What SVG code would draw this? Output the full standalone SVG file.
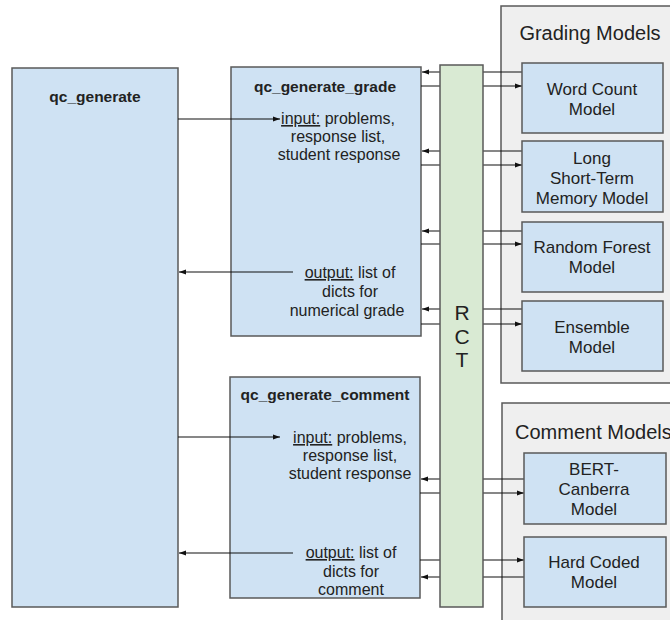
<svg xmlns="http://www.w3.org/2000/svg" width="670" height="620" viewBox="0 0 670 620">
<style>
.box{fill:#cfe2f3;stroke:#595959;stroke-width:1.5}
.grp{fill:#efefef;stroke:#595959;stroke-width:1.5}
.rct{fill:#d9ead3;stroke:#595959;stroke-width:1.5}
text{font-family:"Liberation Sans",Arial,sans-serif;fill:#222;font-size:16px;text-anchor:middle}
.b{font-weight:bold;font-size:15.5px}
.g{font-size:20px}
.r{font-size:21px}
.m{font-size:17px}
.cn line{stroke:#111;stroke-width:1.2}
</style>
<defs>
<marker id="ah" viewBox="0 0 10 10" refX="10" refY="5" markerWidth="7" markerHeight="7" markerUnits="userSpaceOnUse" orient="auto">
<path d="M0,1.5 L10,5 L0,8.5 Z" fill="#111"/>
</marker>
</defs>
<rect width="670" height="620" fill="#fff"/>
<g id="grading-models">
<rect class="grp" x="501" y="6" width="175" height="377"/>
<text class="g" x="590" y="40">Grading Models</text>
</g>
<g id="comment-models">
<rect class="grp" x="502" y="403" width="175" height="230"/>
<text class="g" x="515" y="439" style="text-anchor:start">Comment Models</text>
</g>
<g id="qc_generate">
<rect class="box" x="12" y="68" width="166" height="539"/>
<text class="b" x="95" y="102">qc_generate</text>
</g>
<g id="qc_generate_grade">
<rect class="box" x="231" y="67" width="190" height="269"/>
<text class="b" x="325" y="92">qc_generate_grade</text>
<text x="338" y="124"><tspan text-decoration="underline">input:</tspan> problems,</text>
<text x="338" y="142">response list,</text>
<text x="339" y="160">student response</text>
<text x="350" y="278"><tspan text-decoration="underline">output:</tspan> list of</text>
<text x="350" y="297">dicts for</text>
<text x="347" y="316">numerical grade</text>
</g>
<g id="qc_generate_comment">
<rect class="box" x="230" y="377" width="190" height="221"/>
<text class="b" x="325" y="400">qc_generate_comment</text>
<text x="350" y="443"><tspan text-decoration="underline">input:</tspan> problems,</text>
<text x="350" y="461">response list,</text>
<text x="350" y="479">student response</text>
<text x="351" y="558"><tspan text-decoration="underline">output:</tspan> list of</text>
<text x="351" y="577">dicts for</text>
<text x="351" y="595">comment</text>
</g>
<g id="connectors" class="cn">
<line x1="178" y1="119" x2="280" y2="119" marker-end="url(#ah)"/>
<line x1="293" y1="272" x2="179" y2="272" marker-end="url(#ah)"/>
<line x1="178" y1="437" x2="280" y2="437" marker-end="url(#ah)"/>
<line x1="293" y1="553" x2="179" y2="553" marker-end="url(#ah)"/>
<line x1="522" y1="72" x2="422" y2="72" marker-end="url(#ah)"/>
<line x1="421" y1="86" x2="522" y2="86" marker-end="url(#ah)"/>
<line x1="522" y1="151" x2="422" y2="151" marker-end="url(#ah)"/>
<line x1="421" y1="165" x2="522" y2="165" marker-end="url(#ah)"/>
<line x1="522" y1="231" x2="422" y2="231" marker-end="url(#ah)"/>
<line x1="421" y1="244" x2="522" y2="244" marker-end="url(#ah)"/>
<line x1="522" y1="309" x2="422" y2="309" marker-end="url(#ah)"/>
<line x1="421" y1="324" x2="522" y2="324" marker-end="url(#ah)"/>
<line x1="524" y1="479" x2="421" y2="479" marker-end="url(#ah)"/>
<line x1="420" y1="493" x2="524" y2="493" marker-end="url(#ah)"/>
<line x1="420" y1="560" x2="524" y2="560" marker-end="url(#ah)"/>
<line x1="524" y1="577" x2="421" y2="577" marker-end="url(#ah)"/>
</g>
<g id="rct">
<rect class="rct" x="440" y="65" width="43" height="542"/>
<text class="r" x="462" y="320">R</text>
<text class="r" x="462" y="344">C</text>
<text class="r" x="462" y="367">T</text>
</g>
<g id="word-count-model">
<rect class="box" x="522" y="63" width="141" height="70"/>
<text class="m" x="592" y="95">Word Count</text>
<text class="m" x="592" y="115">Model</text>
</g>
<g id="lstm-model">
<rect class="box" x="522" y="141" width="141" height="71"/>
<text class="m" x="592" y="164">Long</text>
<text class="m" x="592" y="184">Short-Term</text>
<text class="m" x="592" y="204">Memory Model</text>
</g>
<g id="random-forest-model">
<rect class="box" x="522" y="222" width="141" height="70"/>
<text class="m" x="592" y="253">Random Forest</text>
<text class="m" x="592" y="273">Model</text>
</g>
<g id="ensemble-model">
<rect class="box" x="522" y="301" width="141" height="70"/>
<text class="m" x="592" y="333">Ensemble</text>
<text class="m" x="592" y="353">Model</text>
</g>
<g id="bert-canberra-model">
<rect class="box" x="524" y="453" width="142" height="71"/>
<text class="m" x="594" y="475">BERT-</text>
<text class="m" x="594" y="495">Canberra</text>
<text class="m" x="594" y="515">Model</text>
</g>
<g id="hard-coded-model">
<rect class="box" x="524" y="537" width="142" height="70"/>
<text class="m" x="594" y="568">Hard Coded</text>
<text class="m" x="594" y="588">Model</text>
</g>
</svg>
